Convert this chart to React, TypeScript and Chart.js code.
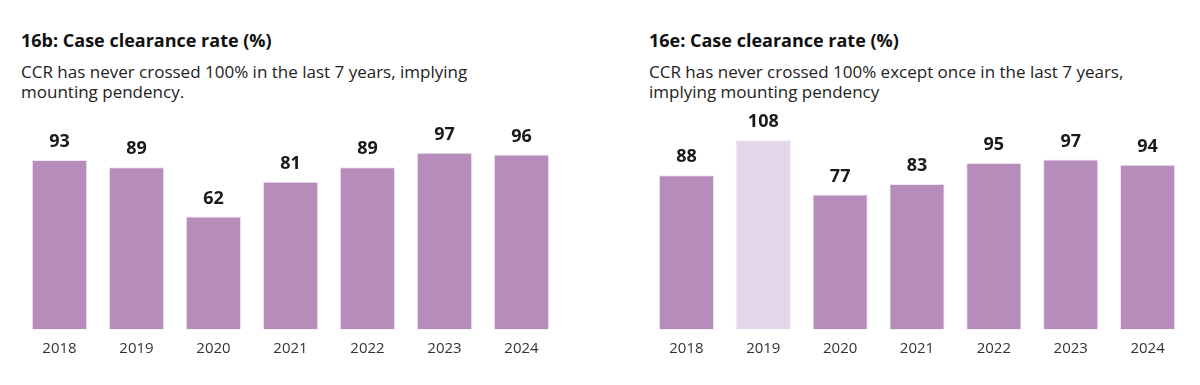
import React, { useEffect, useRef } from "react";
import { Chart, registerables } from "chart.js";

Chart.register(...registerables);

const years = ["2018", "2019", "2020", "2021", "2022", "2023", "2024"];
const ccrHighCourt = [93, 89, 62, 81, 89, 97, 96];
const ccrDistrict = [88, 108, 77, 83, 95, 97, 94];

const leftTitle = "16b: Case clearance rate (%)";
const leftSubtitle = ["CCR has never crossed 100% in the last 7 years, implying", "mounting pendency."];
const rightTitle = "16e: Case clearance rate (%)";
const rightSubtitle = ["CCR has never crossed 100% except once in the last 7 years,", "implying mounting pendency"];

const BAR = "#B58CBA";
const BAR_LIGHT = "#E3D6EA";

const valueLabels = {
  id: "valueLabels",
  afterDatasetsDraw(chart: any) {
    const ctx = chart.ctx;
    const meta = chart.getDatasetMeta(0);
    const data = chart.data.datasets[0].data;
    ctx.save();
    ctx.font = "bold 18px 'Noto Sans', sans-serif";
    ctx.fillStyle = "#1a1a1a";
    ctx.textAlign = "center";
    ctx.textBaseline = "middle";
    meta.data.forEach((el: any, i: number) => {
      ctx.fillText(String(data[i]), el.x, el.y - 18);
    });
    ctx.restore();
  },
};

function BarChart(props: {
  values: number[];
  colors: string[];
  max: number;
  padLeft: number;
  padRight: number;
  padTop: number;
}) {
  const ref = useRef<HTMLCanvasElement | null>(null);
  useEffect(() => {
    if (!ref.current) return;
    const chart = new Chart(ref.current, {
      type: "bar",
      data: {
        labels: years,
        datasets: [
          {
            data: props.values,
            backgroundColor: props.colors,
            borderColor: "rgba(240,225,242,0.9)",
            borderWidth: 1,
            barPercentage: 1,
            categoryPercentage: 0.718,
          },
        ],
      },
      options: {
        responsive: false,
        animation: false,
        layout: {
          padding: { left: props.padLeft, right: props.padRight, top: props.padTop, bottom: 17.5 },
        },
        plugins: {
          legend: { display: false },
          tooltip: { enabled: false },
          title: { display: false },
        },
        scales: {
          x: {
            grid: { display: false, drawTicks: false },
            border: { display: false },
            ticks: {
              color: "#333333",
              padding: 10,
              font: { family: "'Open Sans', sans-serif", size: 15 },
            },
          },
          y: {
            display: false,
            min: 0,
            max: props.max,
            grid: { display: false },
          },
        },
      },
      plugins: [valueLabels],
    });
    return () => chart.destroy();
  }, []);
  return <canvas ref={ref} width={580} height={285} style={{ display: "block" }} />;
}

function Heading(props: { title: string; lines: string[]; left: number }) {
  return (
    <div style={{ position: "absolute", left: props.left, top: 29, fontFamily: "'Open Sans', sans-serif", whiteSpace: "nowrap" }}>
      <div style={{ fontWeight: 700, fontSize: 18, lineHeight: "22px", color: "#111" }}>{props.title}</div>
      <div style={{ marginTop: 11, fontSize: 17, lineHeight: "19.5px", color: "#222" }}>
        {props.lines.map((l, i) => (
          <div key={i}>{l}</div>
        ))}
      </div>
    </div>
  );
}

export default function App() {
  const leftColors = ccrHighCourt.map(() => BAR);
  const rightColors = ccrDistrict.map((v) => (v > 100 ? BAR_LIGHT : BAR));
  return (
    <div
      style={{
        position: "absolute",
        left: 0,
        top: 0,
        width: 1200,
        height: 385,
        overflow: "hidden",
        background: "#fff",
      }}
    >
      <Heading title={leftTitle} lines={leftSubtitle} left={21} />
      <Heading title={rightTitle} lines={rightSubtitle} left={649} />
      <div style={{ position: "absolute", left: 0, top: 100 }}>
        <BarChart values={ccrHighCourt} colors={leftColors} max={110} padLeft={21} padRight={20} padTop={29} />
      </div>
      <div style={{ position: "absolute", left: 620, top: 100 }}>
        <BarChart values={ccrDistrict} colors={rightColors} max={115} padLeft={28} padRight={14} padTop={28} />
      </div>
    </div>
  );
}
